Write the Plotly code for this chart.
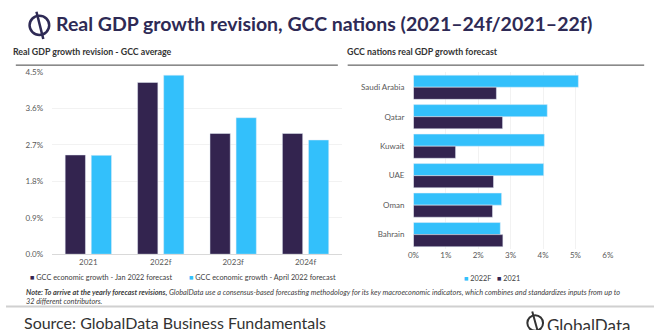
import plotly.graph_objects as go

W, H = 660, 330

years = ["2021", "2022f", "2023f", "2024f"]
jan_forecast = [2.45, 4.24, 2.98, 2.98]
apr_forecast = [2.44, 4.42, 3.37, 2.82]
left_ticks = [0.0, 0.9, 1.8, 2.7, 3.6, 4.5]
left_ticklabels = ["0.0%", "0.9%", "1.8%", "2.7%", "3.6%", "4.5%"]

countries = ["Saudi Arabia", "Qatar", "Kuwait", "UAE", "Oman", "Bahrain"]
f2022 = [5.09, 4.13, 4.04, 4.02, 2.72, 2.68]
a2021 = [2.56, 2.75, 1.30, 2.47, 2.44, 2.76]
right_ticks = [0, 1, 2, 3, 4, 5, 6]
right_ticklabels = ["0%", "1%", "2%", "3%", "4%", "5%", "6%"]

left_names = ["GCC economic growth - Jan 2022 forecast", "GCC economic growth - April 2022 forecast"]
right_names = ["2022F", "2021"]

DARK = "#33244f"
LIGHT = "#33c0fb"
FONT = "Lato"

def px(x):
    return x / W

def py(y):
    return 1 - y / H

fig = go.Figure()
fig.add_trace(go.Bar(x=years, y=jan_forecast, name=left_names[0], width=0.28, offset=-0.32,
                     marker_color=DARK, xaxis="x", yaxis="y"))
fig.add_trace(go.Bar(x=years, y=apr_forecast, name=left_names[1], width=0.28, offset=0.04,
                     marker_color=LIGHT, xaxis="x", yaxis="y"))
fig.add_trace(go.Bar(y=countries, x=f2022, name=right_names[0], orientation="h", width=0.41, offset=-0.41,
                     marker_color=LIGHT, xaxis="x2", yaxis="y2"))
fig.add_trace(go.Bar(y=countries, x=a2021, name=right_names[1], orientation="h", width=0.41, offset=0.0,
                     marker_color=DARK, xaxis="x2", yaxis="y2"))

tickfont = dict(family=FONT, size=8, color="#595959")

fig.update_layout(
    width=W, height=H,
    margin=dict(l=0, r=0, t=0, b=0),
    paper_bgcolor="white", plot_bgcolor="white",
    barmode="overlay",
    showlegend=False,
    font=dict(family=FONT, color="#333333"),
    xaxis=dict(domain=[px(47), px(342)], anchor="y", tickfont=tickfont,
               showgrid=False, showline=True, linecolor="#d9d9d9", linewidth=1,
               ticks="", range=[-0.5, 3.5]),
    yaxis=dict(domain=[py(257), py(69)], anchor="x", range=[0, 4.5],
               tickvals=left_ticks, ticktext=left_ticklabels, tickfont=tickfont,
               showgrid=True, gridcolor="#f2f2f2", zeroline=False, ticks="",
               ticklabelstandoff=8),
    xaxis2=dict(domain=[px(415), px(613)], anchor="y2", range=[0, 6],
                tickvals=right_ticks, ticktext=right_ticklabels, tickfont=tickfont,
                showgrid=True, gridcolor="#f2f2f2", zeroline=False, ticks=""),
    yaxis2=dict(domain=[py(252), py(69.6)], anchor="x2", autorange="reversed",
                tickfont=tickfont, showgrid=False, ticks="", ticklabelstandoff=8,
                categoryorder="array", categoryarray=countries),
)

def ann(text, x, y, size, color="#333333", xanchor="left", yanchor="middle", weight=None,
        family=FONT, align="left"):
    f = dict(family=family, size=size, color=color)
    if weight:
        f["weight"] = weight
    fig.add_annotation(text=text, x=px(x), y=py(y), xref="paper", yref="paper",
                       xanchor=xanchor, yanchor=yanchor, showarrow=False, align=align, font=f)

# Title and subtitles
ann("Real GDP growth revision, GCC nations (2021–24f/2021–22f)", 49, 19, 19.5, "#2e2a55", weight=700)
ann("Real GDP growth revision - GCC average", 5, 48, 8.8, weight=700)
ann("GCC nations real GDP growth forecast", 345, 48, 8.8, weight=700)

# Legends (as text)
def legend_item(name, color, x, y):
    ann(f"<span style='color:{color}'>■</span> {name}", x, y, 7.3, "#404040")

legend_item(left_names[0], DARK, 22, 281)
legend_item(left_names[1], LIGHT, 184, 281)
legend_item(right_names[0], LIGHT, 464, 282)
legend_item(right_names[1], DARK, 498, 282)

# Note
ann("<b><i>Note: To arrive at the yearly forecast revisions,</i></b><i> GlobalData use a consensus-based forecasting methodology for its key macroeconomic indicators, which combines and standardizes inputs from up to<br>32 different contributors.</i>",
    18, 290, 7.3, "#404040", yanchor="top")

# Source and logo
ann("Source: GlobalData Business Fundamentals", 16, 316, 16, yanchor="top")
ann("GlobalData", 549, 318, 17, yanchor="top")

# Decorative lines
shapes = [
    dict(type="line", xref="paper", yref="paper", x0=px(10), x1=px(338), y0=py(62), y1=py(62),
         line=dict(color="#404040", width=1)),
    dict(type="line", xref="paper", yref="paper", x0=px(348), x1=px(650), y0=py(62), y1=py(62),
         line=dict(color="#404040", width=1)),
    dict(type="line", xref="paper", yref="paper", x0=0, x1=1, y0=py(311), y1=py(311),
         line=dict(color="#d0d0d0", width=2)),
    # title icon
    dict(type="circle", xref="paper", yref="paper", x0=px(24), x1=px(44), y0=py(31), y1=py(11),
         line=dict(color="#2e2a55", width=2.5)),
    dict(type="line", xref="paper", yref="paper", x0=px(31), x1=px(38), y0=py(7), y1=py(35),
         line=dict(color="#2e2a55", width=2.5)),
    # logo icon
    dict(type="circle", xref="paper", yref="paper", x0=px(531), x1=px(547), y0=py(336), y1=py(320),
         line=dict(color="#333333", width=2)),
    dict(type="line", xref="paper", yref="paper", x0=px(536), x1=px(542), y0=py(316), y1=py(338),
         line=dict(color="#333333", width=2)),
]
fig.update_layout(shapes=shapes)

fig.write_html("out.html")
